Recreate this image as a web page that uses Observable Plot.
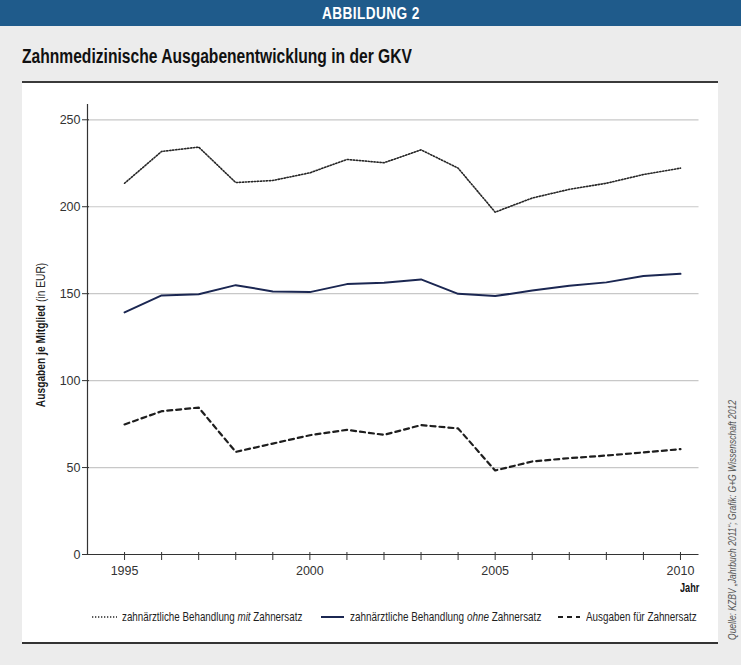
<!DOCTYPE html>
<html>
<head>
<meta charset="utf-8">
<script src="https://cdn.jsdelivr.net/npm/d3@7"></script>
<script src="https://cdn.jsdelivr.net/npm/@observablehq/plot@0.6"></script>
<style>
  html, body { margin: 0; padding: 0; }
  body { width: 741px; height: 665px; background: #ececec; position: relative; overflow: hidden;
         font-family: "Liberation Sans", Arial, sans-serif; }
  .abs { position: absolute; white-space: nowrap; }
  .fit { display: inline-block; transform-origin: 0 50%; }
  #headerBar { left: 0; top: 0; width: 741px; height: 26px; background: #1f5b8b; }
  #header { top: 4px; color: #fff; font-weight: bold; font-size: 16px; letter-spacing: 0.5px; line-height: 19px; }
  #title { left: 22px; top: 45px; font-weight: bold; font-size: 19.5px; color: #111; line-height: 22px; }
  #titleRule { left: 22px; top: 81px; width: 696px; height: 2px; background: #3a3a3a; }
  #panel { left: 22px; top: 83px; width: 696px; height: 560px; background: #fff; }
  #bottomRule { left: 22px; top: 642px; width: 696px; height: 2px; background: #333; }
  #chart { left: 22px; top: 83px; }
  .rot { transform-origin: 50% 50%; }
  #ylabel { left: 40px; top: 335px; font-size: 13px; color: #1a1a1a; line-height: 15px; }
  #ylabel b { font-weight: bold; }
  #ylabel span { color: #2a2a2a; }
  #jahr { top: 580px; font-weight: bold; font-size: 13px; color: #111; line-height: 16px; }
  .legtext { top: 609px; font-size: 13.5px; color: #1e1e1e; line-height: 16px; }
  .legsym { top: 612px; }
  #source { left: 732px; top: 520px; font-size: 11px; font-style: italic; color: #555; line-height: 13px; }
</style>
</head>
<body>
<div id="headerBar" class="abs"></div>
<div id="header" class="abs fit">ABBILDUNG 2</div>
<div id="title" class="abs fit">Zahnmedizinische Ausgabenentwicklung in der GKV</div>
<div id="titleRule" class="abs"></div>
<div id="panel" class="abs"></div>
<div id="bottomRule" class="abs"></div>
<div id="chart" class="abs"></div>
<div id="ylabel" class="abs rot"><b>Ausgaben je Mitglied</b> <span>(in EUR)</span></div>
<div id="jahr" class="abs fit">Jahr</div>
<div id="source" class="abs rot">Quelle: KZBV „Jahrbuch 2011“; Grafik: G+G Wissenschaft 2012</div>
<script>
// ---- data ----
const years = [1995, 1996, 1997, 1998, 1999, 2000, 2001, 2002, 2003, 2004, 2005, 2006, 2007, 2008, 2009, 2010];
const mitZahnersatz  = [213.5, 231.8, 234.3, 213.9, 215.1, 219.5, 227.2, 225.3, 232.7, 222.2, 196.9, 205.0, 210.0, 213.5, 218.5, 222.2];
const ohneZahnersatz = [139.2, 149.0, 149.7, 154.9, 151.3, 150.9, 155.5, 156.3, 158.2, 149.9, 148.6, 151.8, 154.5, 156.5, 160.1, 161.4];
const zahnersatz     = [74.8, 82.4, 84.5, 59.0, 63.8, 68.6, 71.7, 68.8, 74.4, 72.5, 48.3, 53.5, 55.4, 56.9, 58.7, 60.6];
const seriesNames = ["zahnärztliche Behandlung mit Zahnersatz", "zahnärztliche Behandlung ohne Zahnersatz", "Ausgaben für Zahnersatz"];
const yTicks = [0, 50, 100, 150, 200, 250];
const gridTicks = [50, 100, 150, 200, 250];
const xTickLabels = [1995, 2000, 2005, 2010];

// ---- styles ----
const styles = [
  {stroke: "#262626", strokeWidth: 1.6, strokeDasharray: "1.3,1.7"},
  {stroke: "#1b2752", strokeWidth: 2},
  {stroke: "#1e1e1e", strokeWidth: 2.2, strokeDasharray: "5,4"}
];
const seriesValues = [mitZahnersatz, ohneZahnersatz, zahnersatz];
const tables = seriesValues.map(vals => years.map((year, i) => ({year, value: vals[i]})));

const chart = Plot.plot({
  width: 696,
  height: 520,
  marginLeft: 65,
  marginRight: 19.5,
  marginTop: 18.9,
  marginBottom: 49,
  style: {fontFamily: "'Liberation Sans', Arial, sans-serif", fontSize: "12.5px", color: "#333", background: "transparent", overflow: "visible"},
  x: {domain: [1994, 2010.5], axis: null},
  y: {domain: [0, 260], axis: null},
  marks: [
    Plot.ruleY(gridTicks, {stroke: "#c8c8c8", strokeWidth: 1.2}),
    Plot.ruleY([0], {stroke: "#333", strokeWidth: 1.2}),
    Plot.ruleX([1994], {y1: 0, y2: 258.8, stroke: "#333", strokeWidth: 1.2}),
    Plot.axisY({ticks: yTicks, tickSize: 7, dx: 2, tickPadding: 2, label: null, tickFormat: d => String(d), stroke: "#333"}),
    Plot.axisX({ticks: years, tickSize: 8, dy: -2, tickPadding: 6, label: null,
                tickFormat: d => xTickLabels.includes(d) ? String(d) : "", stroke: "#333"}),
    ...tables.map((t, i) => Plot.lineY(t, {x: "year", y: "value", ...styles[i]}))
  ]
});
document.getElementById("chart").appendChild(chart);

// ---- legend ----
const labelsHtml = [
  "zahnärztliche Behandlung <i>mit</i> Zahnersatz",
  "zahnärztliche Behandlung <i>ohne</i> Zahnersatz",
  "Ausgaben für Zahnersatz"
];
// [symbol x1, symbol x2, text left, text width]
const legendLayout = [[92, 117, 122, 180], [321, 344, 350, 191], [558, 580, 586, 111]];
const ns = "http://www.w3.org/2000/svg";
styles.forEach((s, i) => {
  const [sx1, sx2, tx, tw] = legendLayout[i];
  const svg = document.createElementNS(ns, "svg");
  svg.setAttribute("class", "abs legsym");
  svg.style.left = sx1 + "px";
  svg.setAttribute("width", sx2 - sx1); svg.setAttribute("height", 10);
  const line = document.createElementNS(ns, "line");
  line.setAttribute("x1", 0); line.setAttribute("x2", sx2 - sx1); line.setAttribute("y1", 5); line.setAttribute("y2", 5);
  line.setAttribute("stroke", s.stroke); line.setAttribute("stroke-width", s.strokeWidth);
  if (s.strokeDasharray) line.setAttribute("stroke-dasharray", s.strokeDasharray);
  svg.appendChild(line);
  document.body.appendChild(svg);
  const span = document.createElement("div");
  span.className = "abs fit legtext";
  span.style.left = tx + "px";
  span.innerHTML = labelsHtml[i];
  span.title = seriesNames[i];
  span.dataset.w = tw;
  document.body.appendChild(span);
});

// ---- fit condensed text widths ----
function fitLeft(el, left, w) {
  const s = w / el.offsetWidth;
  el.style.left = left + "px";
  el.style.transform = `scaleX(${s})`;
}
document.querySelectorAll(".legtext").forEach(el => fitLeft(el, parseFloat(el.style.left), +el.dataset.w));
fitLeft(document.getElementById("title"), 22, 390);
fitLeft(document.getElementById("header"), 322, 98);
fitLeft(document.getElementById("jahr"), 680, 19);
function fitRot(el, len) {
  const s = len / el.offsetWidth;
  el.style.transform = `translate(-50%, -50%) rotate(-90deg) scaleX(${s})`;
}
fitRot(document.getElementById("ylabel"), 144);
fitRot(document.getElementById("source"), 240);
</script>
</body>
</html>
